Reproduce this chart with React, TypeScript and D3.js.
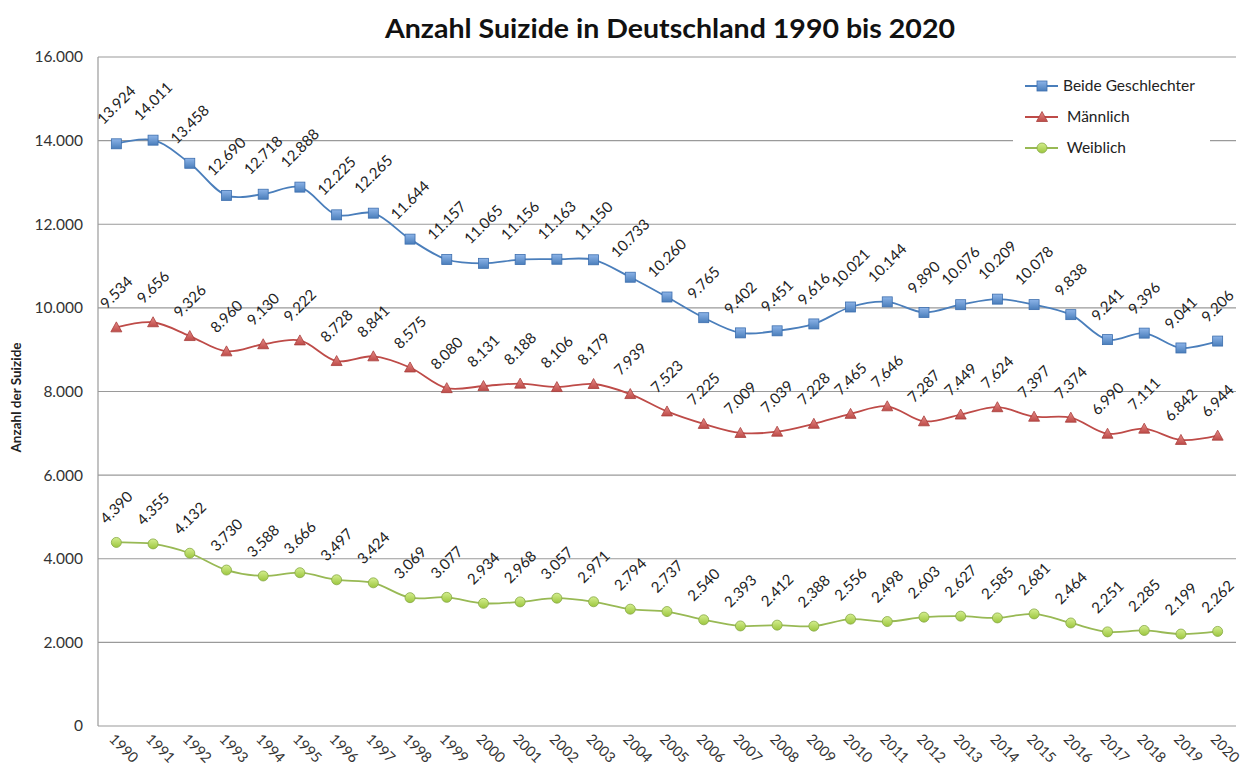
import React from "react";
import * as d3 from "d3";

// Suizide in Deutschland, 1990–2020
const years: number[] = d3.range(1990, 2021);

const beide: number[] = [
  13924, 14011, 13458, 12690, 12718, 12888, 12225, 12265, 11644, 11157, 11065,
  11156, 11163, 11150, 10733, 10260, 9765, 9402, 9451, 9616, 10021, 10144, 9890,
  10076, 10209, 10078, 9838, 9241, 9396, 9041, 9206,
];
const maennlich: number[] = [
  9534, 9656, 9326, 8960, 9130, 9222, 8728, 8841, 8575, 8080, 8131, 8188, 8106,
  8179, 7939, 7523, 7225, 7009, 7039, 7228, 7465, 7646, 7287, 7449, 7624, 7397,
  7374, 6990, 7111, 6842, 6944,
];
const weiblich: number[] = [
  4390, 4355, 4132, 3730, 3588, 3666, 3497, 3424, 3069, 3077, 2934, 2968, 3057,
  2971, 2794, 2737, 2540, 2393, 2412, 2388, 2556, 2498, 2603, 2627, 2585, 2681,
  2464, 2251, 2285, 2199, 2262,
];
const yTicks: number[] = [0, 2000, 4000, 6000, 8000, 10000, 12000, 14000, 16000];
const seriesNames: string[] = ["Beide Geschlechter", " Männlich", " Weiblich"];

const W = 1254;
const H = 778;
const margin = { left: 98, right: 18, top: 57, bottom: 52 };
const FONT = "Lato, 'Open Sans', sans-serif";

const de = d3.formatLocale({
  decimal: ",",
  thousands: ".",
  grouping: [3],
  currency: ["", " €"],
});
const fmt = de.format(",d");

type Series = {
  name: string;
  values: number[];
  line: string;
  fillA: string;
  fillB: string;
  stroke: string;
  marker: "square" | "triangle" | "circle";
};

const series: Series[] = [
  { name: seriesNames[0], values: beide, line: "#4A7EBB", fillA: "#8DB4E8", fillB: "#4A7EBB", stroke: "#3C6EAE", marker: "square" },
  { name: seriesNames[1], values: maennlich, line: "#BE4B48", fillA: "#E58A87", fillB: "#BE4B48", stroke: "#A83F3C", marker: "triangle" },
  { name: seriesNames[2], values: weiblich, line: "#98B954", fillA: "#D4EE8E", fillB: "#9CC63E", stroke: "#86A845", marker: "circle" },
];

function Marker({ s, x, y, id }: { s: Series; x: number; y: number; id: number }) {
  const fill = `url(#grad${id})`;
  if (s.marker === "square") {
    return <rect x={x - 5} y={y - 5} width={10} height={10} fill={fill} stroke={s.stroke} strokeWidth={0.8} />;
  }
  if (s.marker === "triangle") {
    const p = `${x},${y - 5.5} ${x + 5.5},${y + 4.5} ${x - 5.5},${y + 4.5}`;
    return <polygon points={p} fill={fill} stroke={s.stroke} strokeWidth={0.8} />;
  }
  return <circle cx={x} cy={y} r={5} fill={fill} stroke={s.stroke} strokeWidth={0.8} />;
}

export default function App() {
  const x = d3
    .scalePoint<number>()
    .domain(years)
    .range([margin.left, W - margin.right])
    .padding(0.5);
  const y = d3
    .scaleLinear()
    .domain([0, 16000])
    .range([H - margin.bottom, margin.top]);

  const lineGen = (vals: number[]) =>
    d3
      .line<number>()
      .x((_, i) => x(years[i]) as number)
      .y((v) => y(v))
      .curve(d3.curveCatmullRom.alpha(0.5))(vals) as string;

  const labelOffset = (txt: string) => {
    const len = txt.replace(/\./g, "").length * 8 + 4;
    return 17 + len * 0.5;
  };

  return (
    <svg width={W} height={H} style={{ display: "block", position: "absolute", left: 0, top: 0, background: "#fff" }} fontFamily={FONT}>
      <defs>
        {series.map((s, i) => (
          <linearGradient key={i} id={`grad${i}`} x1="0" y1="0" x2="0" y2="1">
            <stop offset="0%" stopColor={s.fillA} />
            <stop offset="100%" stopColor={s.fillB} />
          </linearGradient>
        ))}
      </defs>
      <rect width={W} height={H} fill="#fff" />

      {/* title */}
      <text x={670} y={38} textAnchor="middle" fontSize={27} fontWeight="bold" fill="#111" textLength={570} lengthAdjust="spacingAndGlyphs">
        Anzahl Suizide in Deutschland 1990 bis 2020
      </text>

      {/* gridlines */}
      {yTicks.map((t) => (
        <line key={t} x1={margin.left} x2={W - margin.right} y1={y(t)} y2={y(t)} stroke="#9a9a9a" strokeWidth={1.2} />
      ))}
      <line x1={margin.left} x2={margin.left} y1={y(16000)} y2={y(0)} stroke="#9a9a9a" strokeWidth={1.2} />

      {/* y tick labels */}
      {yTicks.map((t) => (
        <text key={t} x={83} y={y(t)} dy="0.35em" textAnchor="end" fontSize={15.5} fill="#333">
          {fmt(t)}
        </text>
      ))}
      <text transform={`translate(21,${(y(0) + y(16000)) / 2 + 6}) rotate(-90)`} textAnchor="middle" fontSize={13.5} fontWeight="bold" fill="#222">
        Anzahl der Suizide
      </text>

      {/* x tick labels */}
      {years.map((yr) => (
        <text
          key={yr}
          transform={`translate(${(x(yr) as number) - 8},${y(0) + 14}) rotate(45)`}
          textAnchor="start"
          fontSize={14.5}
          fill="#333"
        >
          {yr}
        </text>
      ))}

      {/* legend */}
      <rect x={1013} y={66} width={197} height={98} fill="#fff" />
      {series.map((s, i) => {
        const ly = 86 + i * 31;
        return (
          <g key={s.name}>
            <line x1={1025} x2={1058} y1={ly} y2={ly} stroke={s.line} strokeWidth={1.8} />
            <Marker s={s} x={1042} y={ly} id={i} />
            <text x={1063} y={ly} dy="0.35em" fontSize={15.5} fill="#222" style={{ whiteSpace: "pre" }}>
              {s.name}
            </text>
          </g>
        );
      })}

      {/* series lines */}
      {series.map((s) => (
        <path key={s.name} d={lineGen(s.values)} fill="none" stroke={s.line} strokeWidth={1.8} />
      ))}

      {/* markers */}
      {series.map((s, si) =>
        s.values.map((v, i) => <Marker key={`${si}-${i}`} s={s} x={x(years[i]) as number} y={y(v)} id={si} />)
      )}

      {/* data labels */}
      {series.map((s, si) =>
        s.values.map((v, i) => {
          const t = fmt(v);
          const cx = x(years[i]) as number;
          const cy = y(v) - labelOffset(t);
          return (
            <text
              key={`l${si}-${i}`}
              transform={`translate(${cx},${cy}) rotate(-45)`}
              textAnchor="middle"
              dy="0.35em"
              fontSize={15}
              fill="#222"
            >
              {t}
            </text>
          );
        })
      )}
    </svg>
  );
}
